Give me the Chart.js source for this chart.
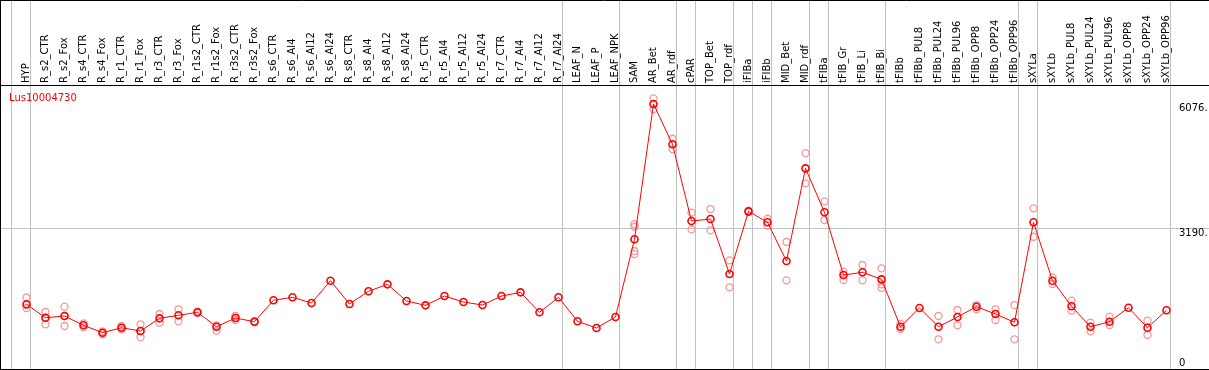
<!DOCTYPE html>
<html><head><meta charset="utf-8">
<script src="https://cdn.jsdelivr.net/npm/chart.js@4.4.0/dist/chart.umd.min.js"></script>
<style>html,body{margin:0;padding:0;background:#fff;}canvas{display:block;}</style>
</head><body>
<canvas id="c" width="1209" height="370"></canvas>
<script>
const geneId = 'Lus10004730';
const categories = ['HYP','R_s2_CTR','R_s2_Fox','R_s4_CTR','R_s4_Fox','R_r1_CTR','R_r1_Fox','R_r3_CTR','R_r3_Fox','R_r1s2_CTR','R_r1s2_Fox','R_r3s2_CTR','R_r3s2_Fox','R_s6_CTR','R_s6_Al4','R_s6_Al12','R_s6_Al24','R_s8_CTR','R_s8_Al4','R_s8_Al12','R_s8_Al24','R_r5_CTR','R_r5_Al4','R_r5_Al12','R_r5_Al24','R_r7_CTR','R_r7_Al4','R_r7_Al12','R_r7_Al24','LEAF_N','LEAF_P','LEAF_NPK','SAM','AR_Bet','AR_rdf','cPAR','TOP_Bet','TOP_rdf','iFIBa','iFIBb','MID_Bet','MID_rdf','tFIBa','tFIB_Gr','tFIB_Li','tFIB_Bi','tFIBb','tFIBb_PUL8','tFIBb_PUL24','tFIBb_PUL96','tFIBb_OPP8','tFIBb_OPP24','tFIBb_OPP96','sXYLa','sXYLb','sXYLb_PUL8','sXYLb_PUL24','sXYLb_PUL96','sXYLb_OPP8','sXYLb_OPP24','sXYLb_OPP96'];
const meanValues = [1422,1110,1150,934,762,878,801,1096,1166,1236,901,1103,1017,
  1515,1584,1452,1970,1429,1724,1886,1498,1398,1614,1475,1405,1614,1700,1236,1584,1027,871,1127,
  2932,6076,5139,3357,3403,2126,3582,3327,2428,4581,3559,2102,2165,2002,
  901,1336,901,1127,1366,1196,1004,3327,1970,1375,901,1017,1343,878,1282];
const repA = [1580,1243,1366,980,794,918,957,1196,1306,1250,934,1150,1034,
  null,null,null,null,null,null,null,null,null,null,null,null,null,null,null,null,null,null,null,
  3287,6207,5269,3550,3635,2444,3596,3410,2869,4936,3814,2179,2335,2258,
  964,null,1150,1289,1405,1306,1405,3652,2049,1505,994,1134,null,1041,null];
const repB = [1336,957,918,887,725,841,655,994,1027,1220,808,1057,1004,
  null,null,null,null,null,null,null,null,null,null,null,null,null,null,null,null,null,null,null,
  2590,5952,5029,3164,3141,1817,3566,3248,1979,4233,3380,1986,1979,1807,
  848,null,609,934,1312,1057,609,2992,1893,1273,794,941,null,709,null];
const repC = [1405,1110,1150,null,null,null,801,null,null,null,null,null,null,
  null,null,null,null,null,null,null,null,null,null,null,null,null,null,null,null,null,null,null,
  3224,null,null,null,null,null,null,null,null,null,null,null,null,1886,
  null,null,null,null,null,null,null,null,null,null,null,null,null,null,null];
const repD = [null,null,null,null,null,null,null,null,null,null,null,null,null,
  null,null,null,null,null,null,null,null,null,null,null,null,null,null,null,null,null,null,null,
  2660,null,null,null,null,null,null,null,null,null,null,null,null,null,
  null,null,null,null,null,null,null,null,null,null,null,null,null,null,null];
const yTickValues = [0, 3190, 6076];
const yTickLabels = ['0', '3190.', '6076.'];
const groupEnds = [-1, 0, 28, 31, 34, 35, 37, 38, 39, 41, 42, 45, 52, 53, 60];

const FONT = '"DejaVu Sans", sans-serif';
const toPts = arr => arr.map((v, i) => v === null ? null : {x: i, y: v}).filter(p => p !== null);
const repStyle = {
  showLine: false, pointRadius: 3.5, pointBorderWidth: 1.3,
  pointBorderColor: '#f09a9a', pointBackgroundColor: 'rgba(0,0,0,0)'
};

const decor = {
  id: 'decor',
  beforeDatasetsDraw(chart) {
    const {ctx, scales: {x, y}} = chart;
    const W = chart.width, H = chart.height;
    const line = (x1, y1, x2, y2) => { ctx.beginPath(); ctx.moveTo(x1, y1); ctx.lineTo(x2, y2); ctx.stroke(); };
    ctx.save();
    ctx.lineWidth = 1;
    ctx.strokeStyle = '#c0c0c0';
    const gy = Math.floor(y.getPixelForValue(3190)) + 0.5;
    line(0, gy, W, gy);
    groupEnds.forEach(i => {
      const px = Math.floor(x.getPixelForValue(i + 0.21)) + 0.5;
      line(px, 0, px, H);
    });
    ctx.strokeStyle = '#000';
    line(0, 0.5, W, 0.5);
    line(0, 85.5, W, 85.5);
    line(0, 369.5, W, 369.5);
    line(0.5, 0, 0.5, H);
    ctx.restore();
  },
  afterDatasetsDraw(chart) {
    const {ctx, scales: {y}} = chart;
    ctx.save();
    ctx.font = '10px ' + FONT;
    ctx.textBaseline = 'alphabetic';
    ctx.textAlign = 'left';
    ctx.fillStyle = '#ff0000';
    ctx.fillText(geneId, 9, 100.5);
    ctx.fillStyle = '#000';
    yTickValues.forEach((v, k) => {
      const py = Math.min(y.getPixelForValue(v) + 7.5, 365.5);
      ctx.fillText(yTickLabels[k], 1179, py);
    });
    ctx.restore();
  }
};

new Chart(document.getElementById('c'), {
  type: 'scatter',
  data: {
    datasets: [
      {
        data: toPts(meanValues), showLine: true, borderColor: '#ff0000', borderWidth: 1,
        pointRadius: 3.5, pointBorderWidth: 1.6, pointBorderColor: '#ff0000',
        pointBackgroundColor: 'rgba(0,0,0,0)', tension: 0
      },
      Object.assign({data: toPts(repA)}, repStyle),
      Object.assign({data: toPts(repB)}, repStyle),
      Object.assign({data: toPts(repC)}, repStyle),
      Object.assign({data: toPts(repD)}, repStyle)
    ]
  },
  options: {
    responsive: false,
    animation: false,
    devicePixelRatio: 1,
    layout: {autoPadding: false, padding: {left: 0, right: 38, top: 0, bottom: 1}},
    plugins: {legend: {display: false}, tooltip: {enabled: false}},
    scales: {
      x: {
        type: 'linear', position: 'top', min: -1.3947, max: 60.237,
        afterBuildTicks: s => { s.ticks = categories.map((_, i) => ({value: i})); },
        afterFit: s => { s.height = 86; s.paddingLeft = 0; s.paddingRight = 0; s.paddingTop = 0; s.paddingBottom = 0; },
        grid: {display: false, drawTicks: false},
        border: {display: false},
        ticks: {
          autoSkip: false, minRotation: 90, maxRotation: 90, padding: 3, labelOffset: 12, color: '#000',
          font: {family: FONT, size: 10},
          callback: v => categories[v] ?? ''
        }
      },
      y: {type: 'linear', min: -81.4, max: 6494.2, display: false}
    }
  },
  plugins: [decor]
});
</script>
</body></html>
